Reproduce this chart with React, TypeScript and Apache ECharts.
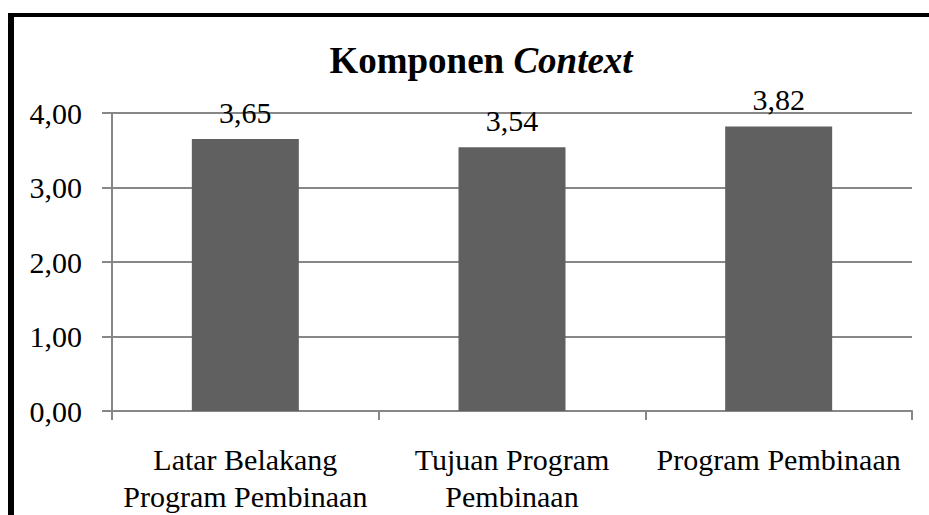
import React, { useEffect, useRef } from "react";
import * as echarts from "echarts";

const categories = ["Latar Belakang\nProgram Pembinaan", "Tujuan Program\nPembinaan", "Program Pembinaan"];
const values = [3.65, 3.54, 3.82];
const titleMain = "Komponen ";
const titleItalic = "Context";

const fmt = (v: number) => v.toFixed(2).replace(".", ",");

export default function App() {
  const ref = useRef<HTMLDivElement>(null);
  useEffect(() => {
    if (!ref.current) return;
    const chart = echarts.init(ref.current, null, { renderer: "svg" });
    const font = "Liberation Serif";
    chart.setOption({
      animation: false,
      backgroundColor: "#ffffff",
      textStyle: { fontFamily: font },
      title: {
        text: `{b|${titleMain}}{i|${titleItalic}}`,
        left: 476,
        top: 37,
        textAlign: "center",
        textStyle: {
          rich: {
            b: { fontFamily: font, fontSize: 37, fontWeight: "bold", color: "#000" },
            i: { fontFamily: font, fontSize: 37, fontWeight: "bold", fontStyle: "italic", color: "#000" },
          },
        },
      },
      graphic: [
        { type: "rect", left: 8, top: 13, shape: { width: 6, height: 600 }, style: { fill: "#000" } },
        { type: "rect", left: 8, top: 13, shape: { width: 1000, height: 4 }, style: { fill: "#000" } },
      ],
      grid: { left: 112, right: 17, top: 113, bottom: 102, containLabel: false },
      xAxis: {
        type: "category",
        data: categories,
        axisLine: { lineStyle: { color: "#878787", width: 2 } },
        axisTick: { show: true, length: 9, lineStyle: { color: "#878787", width: 2 } },
        axisLabel: { color: "#000", fontSize: 30, lineHeight: 37, margin: 30, fontFamily: font, interval: 0 },
      },
      yAxis: {
        type: "value",
        min: 0,
        max: 4,
        interval: 1,
        axisLine: { show: true, lineStyle: { color: "#878787", width: 2 } },
        axisTick: { show: true, length: 10, lineStyle: { color: "#878787", width: 2 } },
        splitLine: { lineStyle: { color: "#878787", width: 2 } },
        axisLabel: { color: "#000", fontSize: 30, margin: 30, fontFamily: font, formatter: (v: number) => fmt(v) },
      },
      series: [
        {
          type: "bar",
          data: values,
          barWidth: 107,
          itemStyle: { color: "#606060" },
          label: {
            show: true,
            position: "top",
            distance: 12,
            color: "#000",
            fontSize: 30,
            fontFamily: font,
            formatter: (p: any) => fmt(p.value),
          },
        },
      ],
    });
    return () => chart.dispose();
  }, []);
  return <div ref={ref} style={{ position: "fixed", left: 0, top: 0, width: 929, height: 515 }} />;
}
